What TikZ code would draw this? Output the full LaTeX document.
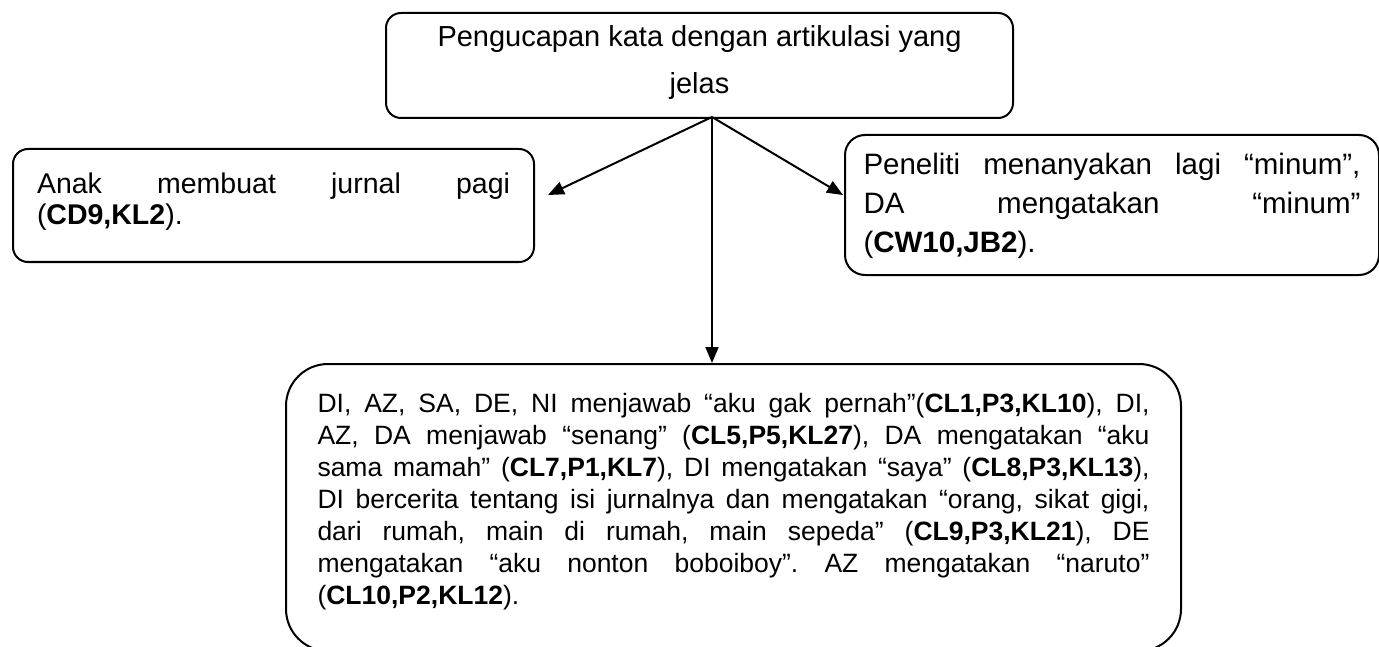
\documentclass[tikz,border=0pt]{standalone}
\usepackage{fontspec}
\setmainfont{Liberation Sans}
\usetikzlibrary{arrows.meta}
\newcommand\JustLine[1]{\noindent\makebox[\linewidth][s]{#1}\par}
\newcommand\LastLine[1]{\noindent#1\par}
\tikzset{
  box/.style={draw, line width=2pt, inner ysep=0pt, anchor=north west},
  arr/.style={line width=2pt, -{Triangle[length=16pt,width=13pt]}}
}
\begin{document}
\frenchspacing
\begin{tikzpicture}[x=1pt,y=-1pt]
\fill[white] (0,0) rectangle (1379,647);
\useasboundingbox (0,0) rectangle (1379,647);

\node[box, rounded corners=15pt, inner xsep=23.5pt] (top) at (385,12)
 {\parbox[c][105pt][t]{580pt}{\centering\fontsize{29pt}{47pt}\selectfont
  \vspace*{12pt}\rule{0pt}{22pt}Pengucapan kata dengan artikulasi yang\\jelas\par}};

\node[box, rounded corners=15pt, inner xsep=24pt] (lbox) at (12,148)
 {\parbox[c][113pt][t]{473pt}{\fontsize{28.5pt}{31pt}\selectfont
  \vspace*{23pt}%
  \JustLine{\rule{0pt}{22pt}Anak membuat jurnal pagi}%
  \LastLine{(\textbf{CD9,KL2}).}}};

\node[box, rounded corners=20pt, inner xsep=18.5pt] (rbox) at (844,134)
 {\parbox[c][140pt][t]{497pt}{\fontsize{29.5pt}{39pt}\selectfont
  \vspace*{18pt}%
  \JustLine{\rule{0pt}{22pt}Peneliti menanyakan lagi “minum”,}%
  \JustLine{DA mengatakan “minum”}%
  \LastLine{(\textbf{CW10,JB2}).}}};

\node[box, rounded corners=42pt, inner xsep=31.5pt] (bbox) at (285,363)
 {\parbox[c][287pt][t]{832pt}{\fontsize{26.5pt}{32pt}\selectfont
  \vspace*{28pt}%
  \JustLine{\rule{0pt}{20pt}DI, AZ, SA, DE, NI menjawab “aku gak pernah”(\textbf{CL1,P3,KL10}), DI,}%
  \JustLine{AZ, DA menjawab “senang” (\textbf{CL5,P5,KL27}), DA mengatakan “aku}%
  \JustLine{sama mamah” (\textbf{CL7,P1,KL7}), DI mengatakan “saya” (\textbf{CL8,P3,KL13}),}%
  \JustLine{DI bercerita tentang isi jurnalnya dan mengatakan “orang, sikat gigi,}%
  \JustLine{dari rumah, main di rumah, main sepeda” (\textbf{CL9,P3,KL21}), DE}%
  \JustLine{mengatakan “aku nonton boboiboy”. AZ mengatakan “naruto”}%
  \LastLine{(\textbf{CL10,P2,KL12}).}}};

\coordinate (src) at (712,117);
\coordinate (ltip) at (548,195);
\coordinate (rtip) at (843,195);
\draw[arr] (src) -- (ltip);
\draw[arr] (src) -- (rtip);
\draw[arr] (src) -- (src |- bbox.north);
\end{tikzpicture}
\end{document}
